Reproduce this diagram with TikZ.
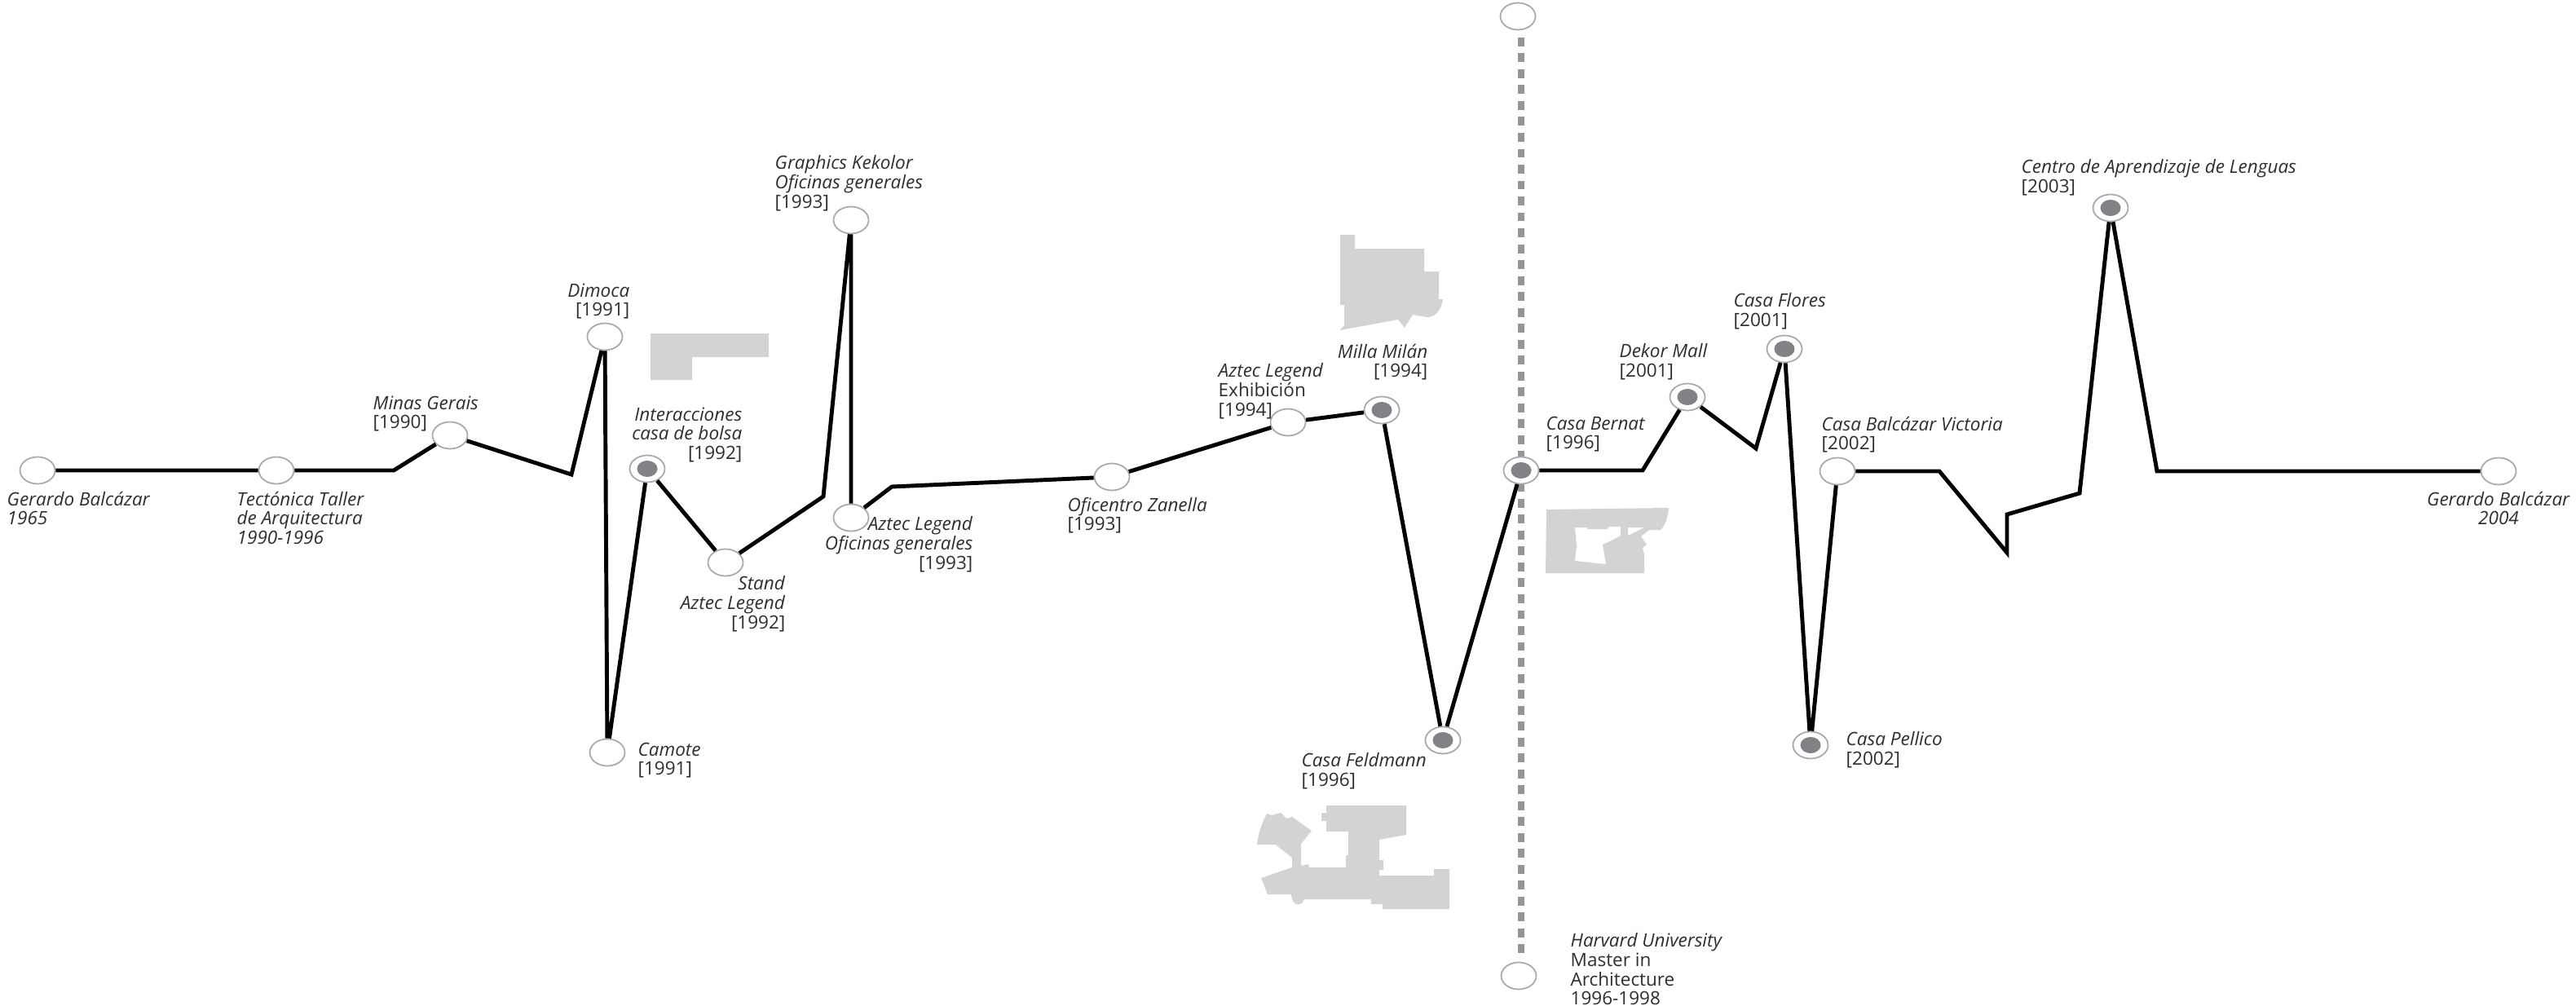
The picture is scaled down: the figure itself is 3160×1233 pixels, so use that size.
\documentclass[tikz,border=0pt]{standalone}
\usepackage{fontspec}
\setmainfont{Open Sans}
\usetikzlibrary{shapes.geometric,backgrounds}
\definecolor{ringgray}{HTML}{A7A9AC}
\definecolor{dotgray}{HTML}{808285}
\definecolor{railgray}{HTML}{939598}
\definecolor{plangray}{HTML}{D1D3D4}
\definecolor{textgray}{HTML}{2F2D2E}
\tikzset{
  hito/.style={ellipse,draw=ringgray,fill=white,line width=0.5pt,inner sep=0pt,minimum width=0.43cm,minimum height=0.33cm},
  hitoobra/.style={hito,path picture={\fill[dotgray] (path picture bounding box.center) ellipse (0.125cm and 0.1cm);}},
  route/.style={line width=1.4pt,black,miter limit=10},
  rail/.style={line width=2.3pt,railgray,dash pattern=on 3.1pt off 2.45pt},
  plan/.style={fill=plangray,draw=none},
  lbl/.style={inner sep=0pt,yshift=2.8pt,text=textgray,font=\fontsize{6.4}{6.7}\selectfont,execute at begin node={\rule{0pt}{6pt}}},
  lbll/.style={lbl,anchor=north west,align=left},
  lblr/.style={lbl,anchor=north east,align=right},
  lblc/.style={lbl,anchor=north,align=center}
}
\begin{document}
\begin{tikzpicture}[x=0.01cm,y=-0.01cm]
      \useasboundingbox (0,0) rectangle (3160,1233);
      % Plain milestones
      \foreach \name/\x/\y in {nacio/46/577, tectonica/339/577, minas/552/534, dimoca/742/413,
        camote/745/923, stand/890/690, graphics/1044/270, aztecof/1044/635, zanella/1364/585,
        aztecex/1580/518, victoria/2254/578, murio/3065/578, harvardup/1862/20, harvarddn/1863/1197} {
        \node[hito] (\name) at (\x,\y) {};
      }
      % Milestones with a built work
      \foreach \name/\x/\y in {interacc/794/575, milla/1695/503, feldmann/1770/908, bernat/1866/577,
        dekor/2070/487, flores/2189/428, pellico/2221/914, centro/2589/255} {
        \node[hitoobra] (\name) at (\x,\y) {};
      }
      % Bends of the line
      \foreach \name/\x/\y in {ba/483/577, bb/701/582, bc/1010/609, bd/1094/597, be/2015/577, bf/2154/550,
        bg/2379/578, bh/2462/678, bi/2462/631, bj/2551/605, bk/2646/578} {
        \coordinate (\name) at (\x,\y);
      }
      % Dashed rail behind the nodes
      \begin{scope}[on background layer]
        \draw[rail,shorten <=0.085cm,shorten >=0.085cm] (harvardup.south -| bernat) -- (harvarddn.north -| bernat);
      \end{scope}
      % The life line
      \draw[route] (nacio) -- (tectonica) -- (ba.center) -- (minas) -- (bb.center) -- (dimoca) -- (camote)
        -- (interacc) -- (stand) -- (bc.center) -- (graphics) -- (aztecof) -- (bd.center) -- (zanella)
        -- (aztecex) -- (milla) -- (feldmann) -- (bernat) -- (be.center) -- (dekor) -- (bf.center) -- (flores)
        -- (pellico) -- (victoria) -- (bg.center) -- (bh.center) -- (bi.center) -- (bj.center) -- (centro)
        -- (bk.center) -- (murio);
      % Plans
      \fill[plan] (798,409) -- (943,409) -- (943,438) -- (849,438) -- (849,466) -- (798,466) -- cycle;
      \fill[plan] (1644,288) -- (1662,288) -- (1662,305) -- (1747,305) -- (1747,333) -- (1765,333) -- (1765,367)
        -- (1770,367) .. controls (1768,382) and (1760,389) .. (1750,389) -- (1733,386) -- (1723,402) -- (1715,392)
        -- (1644,405) -- (1649,399) -- (1649,374) -- (1644,374) -- cycle;
      \fill[plan,even odd rule] (1897,625) -- (1968,624) -- (2047,623) .. controls (2046,634) and (2043,644) .. (2037,650)
        -- (2023,650) -- (2013,658) -- (2020,668) -- (2015,672) -- (2017,680) -- (2017,703) -- (1896,703) -- cycle
        (1932,647) -- (1947,647) -- (1947,649) -- (1972,649) -- (1973,646) -- (1988,646) -- (1988,657) -- (1977,663) -- (1966,668)
        -- (1970,692) -- (1960,691) -- (1932,688) -- (1934,670) -- cycle
        (1997,647) -- (2017,647) -- (1997,657) -- cycle;
      \fill[plan] (1627,988) -- (1725,988) -- (1725,1024) -- (1692,1030) -- (1692,1055) -- (1697,1055) -- (1697,1067)
        -- (1692,1067) -- (1692,1074) -- (1759,1074) -- (1759,1066) -- (1778,1066) -- (1778,1115) -- (1696,1115)
        -- (1696,1109) -- (1682,1109) -- (1682,1103) -- (1600,1103) .. controls (1597,1112) and (1585,1113) .. (1584,1097)
        -- (1555,1097) -- (1547,1077) -- (1585,1064) -- (1585,1052) -- (1571,1041) -- (1565,1036) -- (1542,1036)
        .. controls (1544,1020) and (1548,1010) .. (1554,998) -- (1560,1000) -- (1571,997) -- (1578,1004) -- (1585,1002) -- (1609,1019)
        -- (1596,1035) -- (1596,1062) -- (1605,1060) -- (1606,1064) -- (1651,1064) -- (1651,1049) -- (1654,1049)
        -- (1654,1020) -- (1627,1020) -- (1627,1007) -- (1621,1007) -- (1621,997) -- (1627,997) -- cycle;
      % Labels
      \node[lbll] (tnacio) at (8,612) {\textit{Gerardo Balcázar}\\\textit{1965}};
      \node[lbll] (ttectonica) at (290,612) {\textit{Tectónica Taller}\\\textit{de Arquitectura}\\\textit{1990-1996}};
      \node[lbll] (tminas) at (457,495) {\textit{Minas Gerais}\\{[1990]}};
      \node[lblr] (tdimoca) at (773,357) {\textit{Dimoca}\hspace{0.6pt}\\{[1991]}};
      \node[lblr] (tinteracc) at (911,509) {\textit{Interacciones}\hspace{1.7pt}\\\textit{casa de bolsa}\\{[1992]}};
      \node[lblr] (tstand) at (964,716) {\textit{Stand}\hspace{2.4pt}\\\textit{Aztec Legend}\hspace{1pt}\\{[1992]}};
      \node[lbll] (tcamote) at (782,920) {\textit{Camote}\\{[1991]}};
      \node[lbll] (tgraphics) at (950,200) {\textit{Graphics Kekolor}\\\textit{Oficinas generales}\\{[1993]}};
      \node[lblr] (taztecof) at (1194,643) {\textit{Aztec Legend}\\\textit{Oficinas generales}\\{[1993]}};
      \node[lbll] (tzanella) at (1309,619) {\textit{Oficentro Zanella}\\{[1993]}};
      \node[lbll] (taztecex) at (1494,455) {\textit{Aztec Legend}\\Exhibición\\{[1994]}};
      \node[lblr] (tmilla) at (1752,431) {\textit{Milla Milán}\\{[1994]}};
      \node[lbll] (tfeldmann) at (1596,933) {\textit{Casa Feldmann}\\{[1996]}};
      \node[lbll] (tbernat) at (1896,520) {\textit{Casa Bernat}\\{[1996]}};
      \node[lbll] (tdekor) at (1986,431) {\textit{Dekor Mall}\\{[2001]}};
      \node[lbll] (tflores) at (2126,369) {\textit{Casa Flores}\\{[2001]}};
      \node[lbll] (tvictoria) at (2234,520) {\textit{Casa Balcázar Victoria}\\{[2002]}};
      \node[lbll] (tpellico) at (2264,907) {\textit{Casa Pellico}\\{[2002]}};
      \node[lbll] (tcentro) at (2479,205) {\textit{Centro de Aprendizaje de Lenguas}\\{[2003]}};
      \node[lblc] (tmurio) at (3065,612) {\textit{Gerardo Balcázar}\\\textit{2004}};
      \node[lbll] (tharvard) at (1926,1154) {\textit{Harvard University}\\Master in\\Architecture\\1996-1998};
    \end{tikzpicture}
\end{document}
